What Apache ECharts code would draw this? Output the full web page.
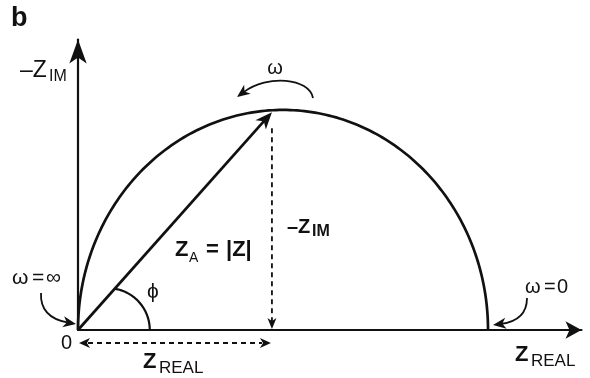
<!DOCTYPE html>
<html><head><meta charset="utf-8">
<script src="https://cdn.jsdelivr.net/npm/echarts@6.0.0/dist/echarts.min.js"></script>
<style>html,body{margin:0;padding:0;background:#fff;}#c{width:590px;height:378px;}</style>
</head><body><div id="c"></div>
<script>
// ---------- data ----------
// Nyquist semicircle: Z_REAL where it meets the real axis (ω = ∞ and ω = 0)
const semicircleZReal = [0, 100];
// |Z| vector end point: [Z_REAL, −Z_IM]
const vectorTip = [47.3, 49.5];
// axis ranges (no tick labels are shown except the origin "0")
const xAxisRange = [0, 122.8];
const yAxisRange = [0, 66];
const originLabel = '0';
const textLabels = {
  panel: 'b', yAxisMain: '–Z', yAxisSub: 'IM', omega: 'ω',
  zaMain: 'Z', zaSub: 'A', zaRest1: '=', zaRest2: '|Z|', phi: 'ϕ',
  zimMain: '–Z', zimSub: 'IM', zrMain: 'Z', zrSub: 'REAL',
  wInf: ['ω', '=', '∞'], wZero: ['ω', '=', '0']
};

// ---------- helpers ----------
const INK = '#111';
const FONT = '"Liberation Sans", Arial, "DejaVu Sans", sans-serif';
function norm(v) { const l = Math.hypot(v[0], v[1]); return [v[0] / l, v[1] / l]; }
function head(tip, d, len, w) {
  const p = [-d[1], d[0]];
  return {
    type: 'polygon',
    shape: { points: [
      tip,
      [tip[0] - d[0] * len + p[0] * w / 2, tip[1] - d[1] * len + p[1] * w / 2],
      [tip[0] - d[0] * len * 0.72, tip[1] - d[1] * len * 0.72],
      [tip[0] - d[0] * len - p[0] * w / 2, tip[1] - d[1] * len - p[1] * w / 2]
    ] },
    style: { fill: INK, stroke: null }
  };
}
function curvedArrow(start, cp1, cp2, tip, len, w) {
  const d = norm([tip[0] - cp2[0], tip[1] - cp2[1]]);
  const end = [tip[0] - d[0] * len * 0.6, tip[1] - d[1] * len * 0.6];
  return [
    { type: 'bezierCurve', shape: { x1: start[0], y1: start[1], cpx1: cp1[0], cpy1: cp1[1], cpx2: cp2[0], cpy2: cp2[1], x2: end[0], y2: end[1] },
      style: { stroke: INK, lineWidth: 1.8, fill: null } },
    head(tip, d, len, w)
  ];
}
function txt(t, x, y, size, bold, align) {
  return { type: 'text', x: x, y: y, silent: true,
    style: { text: t, fill: INK, fontSize: size, fontFamily: FONT, fontWeight: bold ? 'bold' : 'normal',
      align: align || 'left', verticalAlign: 'middle', textAlign: align || 'left', textVerticalAlign: 'middle' } };
}

// phi-angle arc (annotation layout, in axis units)
const PHI_CENTER_X = 7.3, PHI_RADIUS_X = 10.2;

function renderNyquist(params, api) {
  const xs = api.value(0), xe = api.value(1), tx = api.value(2), ty = api.value(3);
  const c = (xs + xe) / 2, r = (xe - xs) / 2;
  const arc = [];
  for (let i = 0; i <= 180; i++) {
    const t = Math.PI * (1 - i / 180);
    arc.push(api.coord([c + r * Math.cos(t), r * Math.sin(t)]));
  }
  const O = api.coord([0, 0]);
  const T = api.coord([tx, ty]);
  const B = api.coord([tx, 0]);
  const ch = [];
  ch.push({ type: 'polyline', shape: { points: arc }, style: { stroke: INK, lineWidth: 2.7, fill: null } });
  // |Z| vector
  const d = norm([T[0] - O[0], T[1] - O[1]]);
  ch.push({ type: 'line', shape: { x1: O[0], y1: O[1], x2: T[0] - d[0] * 10, y2: T[1] - d[1] * 10 }, style: { stroke: INK, lineWidth: 2.7 } });
  ch.push(head(T, d, 17, 14));
  // dashed −Z_IM projection
  ch.push({ type: 'line', shape: { x1: B[0], y1: T[1] + 16, x2: B[0], y2: B[1] - 8 }, style: { stroke: INK, lineWidth: 1.8, lineDash: [5, 4] } });
  ch.push(head([B[0], B[1] - 1], [0, 1], 11, 9));
  // dashed Z_REAL projection (below axis)
  const hy = O[1] + 13;
  ch.push({ type: 'line', shape: { x1: O[0] + 10, y1: hy, x2: B[0] - 10, y2: hy }, style: { stroke: INK, lineWidth: 1.8, lineDash: [5, 4] } });
  ch.push(head([O[0] + 1, hy], [-1, 0], 11, 10));
  ch.push(head([B[0] - 1, hy], [1, 0], 11, 10));
  // phi arc
  const C = api.coord([PHI_CENTER_X, 0]);
  const rr = api.size([PHI_RADIUS_X, 0])[0];
  const f = [O[0] - C[0], O[1] - C[1]];
  const fd = f[0] * d[0] + f[1] * d[1];
  const tt = -fd + Math.sqrt(fd * fd - (f[0] * f[0] + f[1] * f[1]) + rr * rr);
  const P = [O[0] + d[0] * tt, O[1] + d[1] * tt];
  const endA = Math.atan2(C[1] - P[1], P[0] - C[0]);
  const pa = [];
  for (let i = 0; i <= 60; i++) {
    const a = endA * i / 60;
    pa.push([C[0] + rr * Math.cos(a), C[1] - rr * Math.sin(a)]);
  }
  ch.push({ type: 'polyline', shape: { points: pa }, style: { stroke: INK, lineWidth: 2.2, fill: null } });
  return { type: 'group', children: ch };
}

const L = textLabels;
const graphics = [].concat(
  [
    txt(L.panel, 11, 19, 27, true),
    txt(L.yAxisMain, 20, 71, 23, false),
    txt(L.yAxisSub, 49, 77, 16, false),
    txt(L.omega, 275, 68, 20, false, 'center'),
    txt(L.zaMain, 175, 250, 22, true),
    txt(L.zaSub, 189, 258, 14, false),
    txt(L.zaRest1, 206, 250, 22, true),
    txt(L.zaRest2, 226, 250, 22, true),
    txt(L.phi, 153, 292, 21, false, 'center'),
    txt(L.zimMain, 287, 227, 20, true),
    txt(L.zimSub, 312, 232, 16, true),
    txt(L.wInf[0], 12, 278, 21, false),
    txt(L.wInf[1], 32, 278, 21, false),
    txt(L.wInf[2], 46, 278, 21, false),
    txt(originLabel, 61, 343, 20, false),
    txt(L.zrMain, 143, 362, 22, true),
    txt(L.zrSub, 159, 368, 17, false),
    txt(L.zrMain, 515, 355, 22, true),
    txt(L.zrSub, 531, 361, 17, false),
    txt(L.wZero[0], 525, 287, 20, false),
    txt(L.wZero[1], 544, 287, 20, false),
    txt(L.wZero[2], 557, 287, 20, false)
  ],
  curvedArrow([313, 98], [309, 78], [268, 74], [237, 97], 13, 11),
  curvedArrow([41, 293], [40, 313], [53, 320], [76, 324], 13, 11),
  curvedArrow([527, 298], [527, 315], [516, 322], [493, 325], 13, 11)
);

const chart = echarts.init(document.getElementById('c'), null, { renderer: 'canvas' });
chart.setOption({
  animation: false,
  backgroundColor: '#fff',
  grid: { left: 78, right: 8.5, top: 39.5, bottom: 48, containLabel: false, outerBoundsMode: 'none' },
  xAxis: {
    type: 'value', min: xAxisRange[0], max: xAxisRange[1],
    axisLine: { show: true, onZero: false, symbol: ['none', 'arrow'], symbolSize: [13, 16], lineStyle: { color: INK, width: 2.2 } },
    axisTick: { show: false }, axisLabel: { show: false }, splitLine: { show: false }
  },
  yAxis: {
    type: 'value', min: yAxisRange[0], max: yAxisRange[1],
    axisLine: { show: true, onZero: false, symbol: ['none', 'arrow'], symbolSize: [13, 24], lineStyle: { color: INK, width: 2.2 } },
    axisTick: { show: false }, axisLabel: { show: false }, splitLine: { show: false }
  },
  series: [{
    type: 'custom', coordinateSystem: 'cartesian2d', silent: true, clip: false,
    data: [[semicircleZReal[0], semicircleZReal[1], vectorTip[0], vectorTip[1]]],
    encode: { x: [0, 1, 2], y: [3] },
    renderItem: renderNyquist
  }],
  graphic: { elements: graphics }
});
</script>
</body></html>
